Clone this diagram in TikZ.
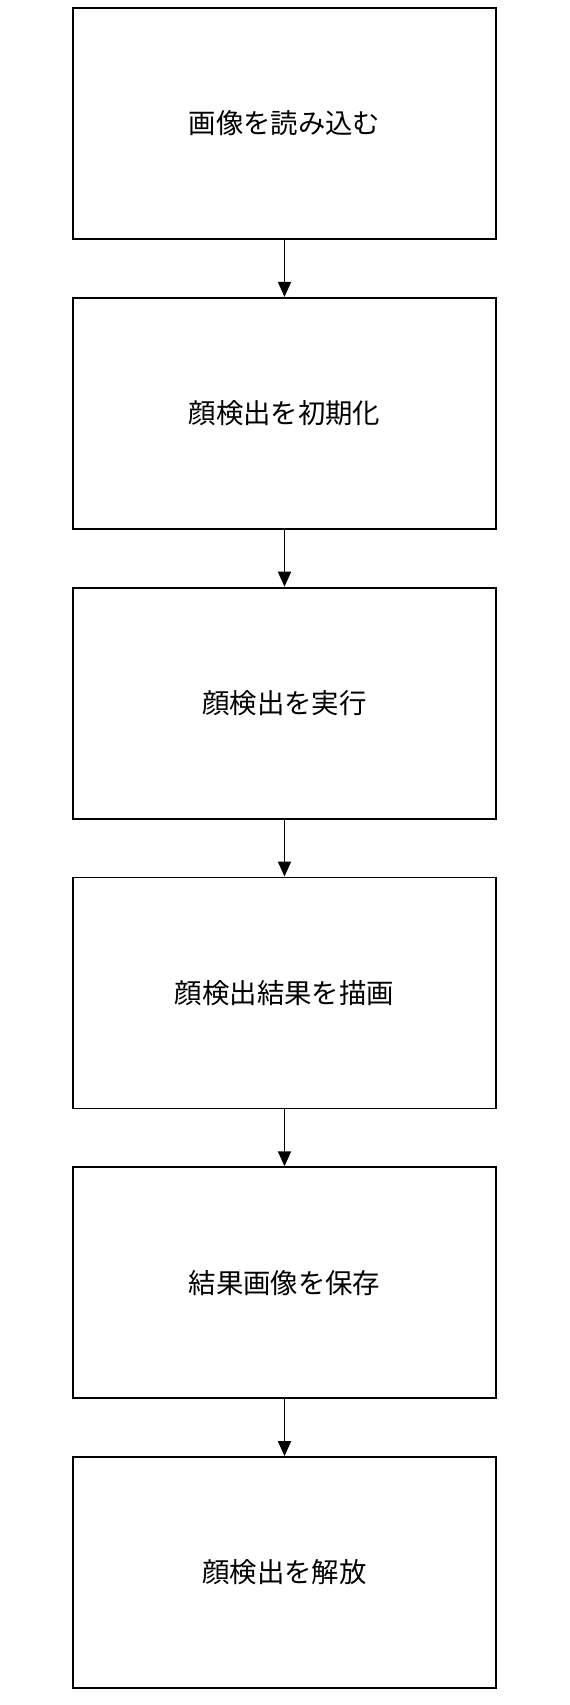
\documentclass[tikz,border=0pt]{standalone}
\usepackage{fontspec}
\usepackage{tikz}
\usetikzlibrary{arrows.meta, positioning}
\newfontfamily\jpfont{Noto Sans CJK JP}

\begin{document}
\begin{tikzpicture}[
  stepbox/.style={draw=black, line width=1.8bp, fill=white, minimum width=423bp, minimum height=231bp, font=\jpfont\fontsize{27.5}{32}\selectfont},
  flow/.style={-{Triangle[length=15bp, width=13bp]}, line width=1.8bp},
  node distance=57bp
]

% Page size (keeps the margins of the reference)
\useasboundingbox (0,0) rectangle (570bp,-1705bp);

% Steps (top to bottom)
\node[stepbox] (load) at (284.5bp,-123.5bp) {画像を読み込む};
\node[stepbox, below=of load] (init) {顔検出を初期化};
\node[stepbox, below=of init] (run) {顔検出を実行};
\node[stepbox, below=of run] (draw) {顔検出結果を描画};
\node[stepbox, below=of draw] (save) {結果画像を保存};
\node[stepbox, below=of save] (release) {顔検出を解放};

% Arrows between steps
\draw[flow] (load.south) -- (init.north);
\draw[flow] (init.south) -- (run.north);
\draw[flow] (run.south) -- (draw.north);
\draw[flow] (draw.south) -- (save.north);
\draw[flow] (save.south) -- (release.north);

\end{tikzpicture}
\end{document}
